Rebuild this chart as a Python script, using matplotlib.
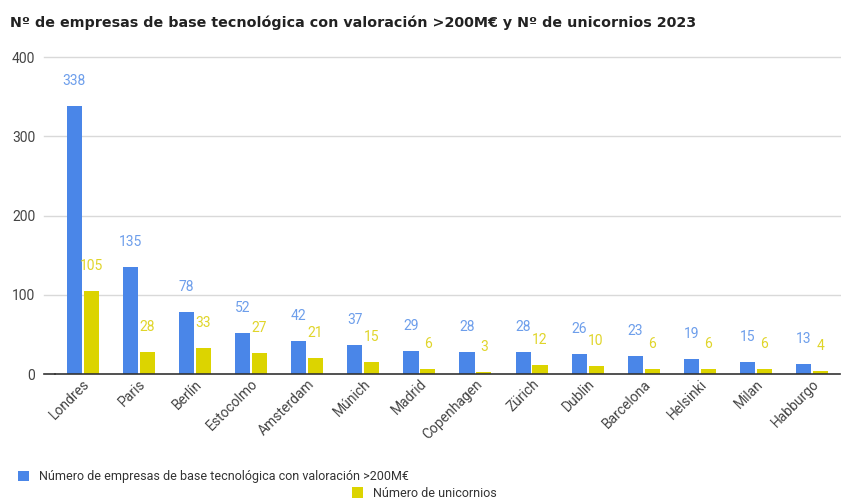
import matplotlib.pyplot as plt
import numpy as np

plt.rcParams['font.family'] = ['Roboto', 'DejaVu Sans']

cities = ['Londres', 'Paris', 'Berlín', 'Estocolmo', 'Amsterdam', 'Múnich', 'Madrid',
          'Copenhagen', 'Zürich', 'Dublin', 'Barcelona', 'Helsinki', 'Milan', 'Habburgo']
empresas = [338, 135, 78, 52, 42, 37, 29, 28, 28, 26, 23, 19, 15, 13]
unicornios = [105, 28, 33, 27, 21, 15, 6, 3, 12, 10, 6, 6, 6, 4]
yticks = [0, 100, 200, 300, 400]

blue = '#4a86e8'
yellow = '#dcd400'
blue_txt = '#6d9eeb'
yellow_txt = '#e0d52a'

fig = plt.figure(figsize=(8.41, 5.01), dpi=100)
ax = fig.add_axes([0.065, 0.253, 0.934, 0.633])

x = np.arange(len(cities))
w = 0.27
gap = 0.03
b1 = ax.bar(x - w / 2 - gap / 2, empresas, w, color=blue, zorder=3,
            label='Número de empresas de base tecnológica con valoración >200M€')
b2 = ax.bar(x + w / 2 + gap / 2, unicornios, w, color=yellow, zorder=3,
            label='Número de unicornios')

for rect, v in zip(b1, empresas):
    ax.annotate(str(v), (rect.get_x() + rect.get_width() / 2, v), xytext=(0, 13),
                textcoords='offset points', ha='center', va='bottom', fontsize=10,
                color=blue_txt)
for rect, v in zip(b2, unicornios):
    ax.annotate(str(v), (rect.get_x() + rect.get_width() / 2, v), xytext=(0, 13),
                textcoords='offset points', ha='center', va='bottom', fontsize=10,
                color=yellow_txt)

ax.set_xlim(-0.5, len(cities) - 0.5)
ax.set_ylim(0, 400)
ax.set_yticks(yticks)
ax.tick_params(axis='y', length=0, labelsize=10, labelcolor='#444444', pad=14)
ax.tick_params(axis='x', length=0, labelsize=10, labelcolor='#444444', pad=2)
ax.set_xticks(x)
ax.set_xticklabels(cities, rotation=45, ha='right', rotation_mode='anchor')

# gridlines run a little past the left edge of the plot area
trans = ax.get_yaxis_transform()
for v in yticks[1:]:
    ax.plot([-0.013, 1], [v, v], transform=trans, color='#d9d9d9', lw=1,
            clip_on=False, zorder=0)
ax.plot([-0.013, 0], [0, 0], transform=trans, color='#333333', lw=1.2,
        clip_on=False, zorder=4)
for s in ['top', 'right', 'left']:
    ax.spines[s].set_visible(False)
ax.spines['bottom'].set_color('#333333')
ax.spines['bottom'].set_linewidth(1.2)
ax.spines['bottom'].set_zorder(4)

fig.text(0.012, 0.955, 'Nº de empresas de base tecnológica con valoración >200M€ y Nº de unicornios 2023',
         fontsize=10.3, fontweight='bold', color='#222222', va='center',
         family='DejaVu Sans')

fig.legend(handles=[b1], loc='center left', bbox_to_anchor=(0.008, 0.048), frameon=False,
           fontsize=9, handlelength=0.9, handleheight=0.9, handletextpad=0.8,
           labelcolor='#333333')
fig.legend(handles=[b2], loc='center left', bbox_to_anchor=(0.405, 0.015), frameon=False,
           fontsize=9, handlelength=0.9, handleheight=0.9, handletextpad=0.8,
           labelcolor='#333333')

fig.savefig('out.png', dpi=100, facecolor='white')
